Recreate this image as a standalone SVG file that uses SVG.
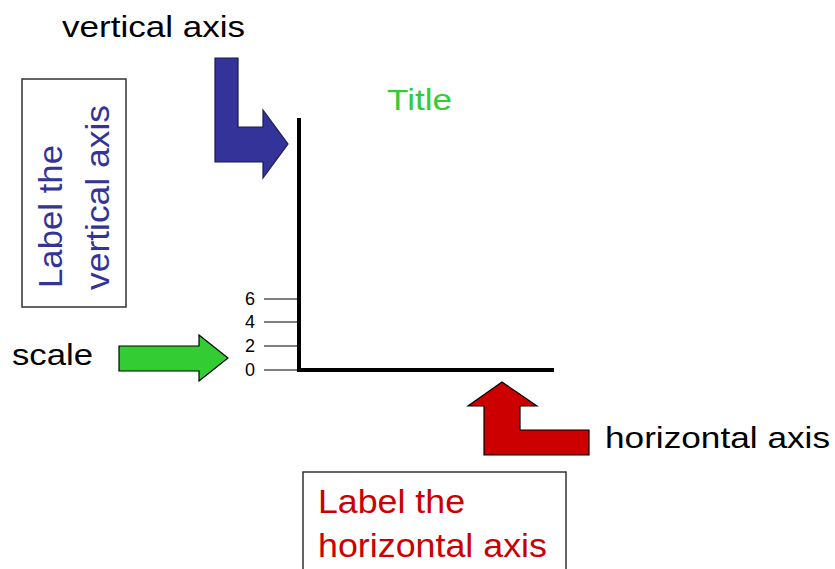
<svg xmlns="http://www.w3.org/2000/svg" width="835" height="569" viewBox="0 0 835 569">
<style>
text{font-family:"Liberation Sans",Arial,sans-serif}
.lbl{font-size:29px;fill:#000}
.box{fill:#fff;stroke:#333;stroke-width:1.5}
.tick{font-size:18px;fill:#000;text-anchor:end}
.axis{stroke:#000;stroke-width:4;fill:none}
.tk{stroke:#000;stroke-width:1.2}
</style>
<rect width="835" height="569" fill="#fff"/>
<g id="title"><text x="387" y="110" font-size="30" fill="#33cc33" textLength="65" lengthAdjust="spacingAndGlyphs">Title</text></g>
<g id="axes">
<path class="axis" d="M299,118 V370 H554"/>
<line class="tk" x1="264" y1="299" x2="299" y2="299"/>
<line class="tk" x1="264" y1="322" x2="299" y2="322"/>
<line class="tk" x1="264" y1="346" x2="299" y2="346"/>
<line class="tk" x1="264" y1="370" x2="299" y2="370"/>
<text class="tick" x="255" y="305">6</text>
<text class="tick" x="255" y="328">4</text>
<text class="tick" x="255" y="352">2</text>
<text class="tick" x="255" y="376">0</text>
</g>
<g id="vertical-label">
<rect class="box" x="22" y="79" width="104" height="228"/>
<text transform="translate(62,288) rotate(-90)" font-size="33" fill="#333399" textLength="143" lengthAdjust="spacingAndGlyphs">Label the</text>
<text transform="translate(109,290) rotate(-90)" font-size="33" fill="#333399" textLength="185" lengthAdjust="spacingAndGlyphs">vertical axis</text>
</g>
<g id="horizontal-label">
<rect class="box" x="303" y="472" width="263" height="110"/>
<text x="318" y="513" font-size="34" fill="#cc0000" textLength="147" lengthAdjust="spacingAndGlyphs">Label the</text>
<text x="318" y="557" font-size="34" fill="#cc0000" textLength="229" lengthAdjust="spacingAndGlyphs">horizontal axis</text>
</g>
<g id="vertical-axis-note">
<text class="lbl" x="62" y="37" textLength="183" lengthAdjust="spacingAndGlyphs">vertical axis</text>
</g>
<g id="scale-note">
<text class="lbl" x="12" y="365" textLength="81" lengthAdjust="spacingAndGlyphs">scale</text>
</g>
<g id="horizontal-axis-note">
<text class="lbl" x="605" y="448" textLength="225" lengthAdjust="spacingAndGlyphs">horizontal axis</text>
</g>
<g id="connectors">
<polygon points="215,58 238,58 238,127 263,127 263,110 288,144 263,178 263,162 215,162" fill="#333399" stroke="#1a1a4d" stroke-width="1.2"/>
<polygon points="119,346 199,346 199,335 228,358 199,381 199,371 119,371" fill="#33cc33" stroke="#000" stroke-width="1.2"/>
<polygon points="502,382 537,406 520,406 520,430 589,430 589,455 484,455 484,406 468,406" fill="#cc0000" stroke="#000" stroke-width="1.2"/>
</g>
</svg>
